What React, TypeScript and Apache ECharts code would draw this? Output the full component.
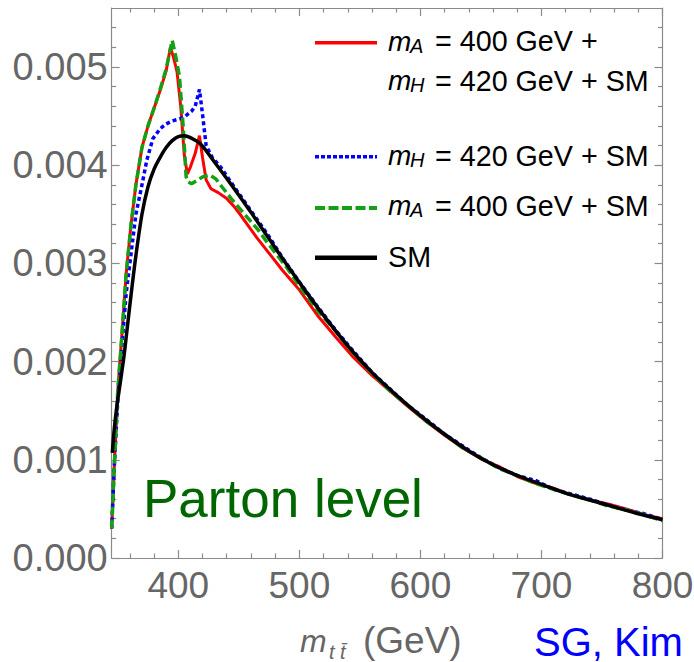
import React, { useEffect, useRef } from "react";
import * as echarts from "echarts";

// ---- data (m_tt in GeV, normalized distribution) ----
const smX = [345.5, 347, 349, 352, 355, 358, 361, 365, 370, 375, 380, 385, 390, 395, 400, 405, 410, 418, 430, 445, 460, 475, 490, 505, 520, 540, 560, 580, 600, 620, 640, 660, 680, 700, 720, 740, 760, 780, 800];
const smY = [0.00107, 0.0013, 0.00152, 0.00178, 0.00204, 0.00236, 0.00268, 0.00308, 0.0035, 0.00378, 0.00396, 0.00408, 0.00418, 0.00425, 0.00429, 0.0043, 0.00428, 0.00422, 0.00403, 0.00378, 0.00352, 0.00325, 0.00298, 0.00272, 0.00247, 0.00216, 0.00189, 0.00166, 0.00145, 0.00126, 0.00109, 0.00095, 0.00084, 0.00075, 0.00066, 0.00059, 0.00052, 0.00045, 0.00039];

const redX = [345, 347, 350, 353, 357, 361, 365, 370, 375, 380, 385, 390, 393.5, 396, 399, 402, 405, 407.5, 410, 414, 417.5, 420, 423, 427, 433, 440, 446, 451, 458, 465, 472, 479, 486, 493, 500, 515, 530, 545, 560, 575, 590, 605, 620, 635, 650, 665, 680, 695, 710, 725, 740, 755, 770, 785, 800];
const redY = [0.0003, 0.0009, 0.0017, 0.0022, 0.0029, 0.0034, 0.0038, 0.00418, 0.0044, 0.00458, 0.00476, 0.00496, 0.0052, 0.0051, 0.00495, 0.0046, 0.0041, 0.00391, 0.00398, 0.00412, 0.0043, 0.00408, 0.00385, 0.00376, 0.00372, 0.00366, 0.00358, 0.0035, 0.00338, 0.00326, 0.00315, 0.00304, 0.00293, 0.00283, 0.00273, 0.00247, 0.00225, 0.00204, 0.00186, 0.0017, 0.00154, 0.00139, 0.00125, 0.00112, 0.00101, 0.00093, 0.00083, 0.00076, 0.00071, 0.00064, 0.00059, 0.00055, 0.0005, 0.00044, 0.0004];

const blueX = [345, 347, 350, 353, 357, 361, 365, 370, 374, 379, 385, 390, 395, 401, 406, 411, 414, 417.5, 420, 423, 428, 435, 445, 458, 473, 487, 500, 515, 530, 545, 560, 575, 590, 605, 620, 635, 650, 665, 680, 695, 710, 725, 740, 755, 770, 785, 800];
const blueY = [0.0003, 0.0009, 0.0016, 0.0021, 0.0027, 0.0031, 0.0035, 0.0038, 0.00405, 0.00427, 0.00437, 0.00442, 0.00445, 0.00447, 0.0045, 0.00455, 0.0046, 0.00477, 0.00452, 0.0042, 0.00408, 0.00398, 0.0038, 0.00357, 0.00331, 0.00304, 0.00281, 0.00256, 0.00232, 0.0021, 0.00189, 0.00172, 0.00155, 0.00141, 0.00126, 0.00114, 0.00102, 0.00092, 0.00084, 0.00079, 0.0007, 0.00065, 0.0006, 0.00054, 0.00049, 0.00045, 0.00039];

const greenX = [345, 347, 350, 353, 357, 361, 365, 370, 375, 380, 385, 390, 395, 398, 401, 404, 406.5, 408, 411, 415, 420, 426, 431, 436, 445, 452, 459, 466, 473, 480, 490, 500, 515, 530, 545, 560, 575, 590, 605, 620, 635, 650, 665, 680, 695, 710, 725, 740, 755, 770, 785, 800];
const greenY = [0.0003, 0.0009, 0.0017, 0.0022, 0.0029, 0.0034, 0.0038, 0.00418, 0.0044, 0.00458, 0.00477, 0.00498, 0.00527, 0.0051, 0.0049, 0.0044, 0.00388, 0.00383, 0.00381, 0.00384, 0.00388, 0.0039, 0.00386, 0.00378, 0.00364, 0.00354, 0.00344, 0.00334, 0.00322, 0.00311, 0.00295, 0.00277, 0.00252, 0.00231, 0.00208, 0.00188, 0.0017, 0.00155, 0.00139, 0.00126, 0.00112, 0.00102, 0.00091, 0.00084, 0.00076, 0.0007, 0.00064, 0.00059, 0.00053, 0.00049, 0.00044, 0.00038];

const xMajorTicks = [400, 500, 600, 700, 800];
const xMinorTicks = [360, 380, 420, 440, 460, 480, 520, 540, 560, 580, 620, 640, 660, 680, 720, 740, 760, 780];
const yMajorTicks = [0, 0.001, 0.002, 0.003, 0.004, 0.005];
const yMinorTicks = [0.0002, 0.0004, 0.0006, 0.0008, 0.0012, 0.0014, 0.0016, 0.0018, 0.0022, 0.0024, 0.0026, 0.0028, 0.0032, 0.0034, 0.0036, 0.0038, 0.0042, 0.0044, 0.0046, 0.0048, 0.0052, 0.0054];

const FONT = '"Liberation Sans", Arial, sans-serif';
const FRAME = { color: "#8a8a8a", width: 1.2 };

function zip(xs: number[], ys: number[]) {
  return xs.map((x, i) => [x, ys[i]]);
}

function tickAxis(kind: "x" | "y", position: string, values: number[], len: number, line: boolean, labels: boolean) {
  const base: any = {
    type: "value",
    position,
    min: kind === "x" ? 345 : 0,
    max: kind === "x" ? 800 : 0.0056,
    splitLine: { show: false },
    axisLine: { show: line, onZero: false, lineStyle: FRAME },
    axisTick: { show: true, inside: true, length: len, customValues: values, lineStyle: FRAME },
    axisLabel: { show: false },
  };
  if (labels) {
    base.axisLabel = {
      show: true,
      customValues: values,
      fontSize: kind === "x" ? 37 : 38,
      fontFamily: FONT,
      color: "#666666",
      margin: kind === "x" ? 9 : 4,
      formatter: kind === "x" ? (v: number) => String(v) : (v: number) => v.toFixed(3),
    };
  }
  return base;
}

export default function App() {
  const ref = useRef<HTMLDivElement>(null);
  useEffect(() => {
    if (!ref.current) return;
    const chart = echarts.init(ref.current, null, { renderer: "svg" });
    const txt = (x: number, y: number, text: string, size: number, italic = false, fill = "#000") => ({
      type: "text",
      x,
      y,
      style: { text, fontSize: size, fontFamily: FONT, fontStyle: italic ? "italic" : "normal", fill, verticalAlign: "middle", align: "left" },
    });
    const lg = (y: number, stroke: string, w: number, dash?: number[]) => ({
      type: "line",
      shape: { x1: 315, y1: y, x2: 377, y2: y },
      style: { stroke, lineWidth: w, lineDash: dash },
    });
    chart.setOption({
      animation: false,
      backgroundColor: "#ffffff",
      grid: { left: 111.7, right: 31.5, top: 8, bottom: 104, containLabel: false, outerBoundsMode: "none" },
      xAxis: [
        tickAxis("x", "bottom", xMajorTicks, 8, true, true),
        tickAxis("x", "bottom", xMinorTicks, 4.5, false, false),
        tickAxis("x", "top", xMajorTicks, 8, true, false),
        tickAxis("x", "top", xMinorTicks, 4.5, false, false),
      ],
      yAxis: [
        tickAxis("y", "left", yMajorTicks, 8, true, true),
        tickAxis("y", "left", yMinorTicks, 4.5, false, false),
        tickAxis("y", "right", yMajorTicks, 8, true, false),
        tickAxis("y", "right", yMinorTicks, 4.5, false, false),
      ],
      series: [
        { type: "line", xAxisIndex: 0, yAxisIndex: 0, data: zip(redX, redY), symbol: "none", lineStyle: { color: "#ff0000", width: 3 }, z: 2 },
        { type: "line", xAxisIndex: 0, yAxisIndex: 0, data: zip(blueX, blueY), symbol: "none", lineStyle: { color: "#0000ff", width: 3.5, type: [4, 3] }, z: 3 },
        { type: "line", xAxisIndex: 0, yAxisIndex: 0, data: zip(greenX, greenY), symbol: "none", lineStyle: { color: "#14a014", width: 3.5, type: [9, 4] }, z: 4 },
        { type: "line", xAxisIndex: 0, yAxisIndex: 0, data: zip(smX, smY), symbol: "none", smooth: 0.3, lineStyle: { color: "#000000", width: 3.5 }, z: 5 },
      ],
      graphic: [
        lg(42.7, "#ff0000", 3.5),
        txt(388, 41.2, "m", 28, true),
        txt(410, 46, "A", 20, true),
        txt(435, 41.2, "= 400 GeV +", 28.7),
        txt(388, 80.7, "m", 28, true),
        txt(410, 85.4, "H", 20, true),
        txt(435, 80.7, "= 420 GeV + SM", 28.7),
        lg(156.7, "#0000ff", 3.5, [4, 2]),
        txt(388, 155.7, "m", 28, true),
        txt(410, 160.4, "H", 20, true),
        txt(435, 155.7, "= 420 GeV + SM", 28.7),
        lg(208, "#14a014", 4, [10, 3.5]),
        txt(388, 205.7, "m", 28, true),
        txt(410, 210.4, "A", 20, true),
        txt(435, 205.7, "= 400 GeV + SM", 28.7),
        lg(257.7, "#000000", 4.5),
        txt(388, 256.7, "SM", 28.7),
        txt(143, 498.3, "Parton level", 53, false, "#006600"),
        txt(300, 640.5, "m", 32, true, "#666666"),
        txt(329, 652, "t t\u0304", 20, true, "#666666"),
        txt(363, 640.5, "(GeV)", 37, false, "#666666"),
        txt(534, 641.5, "SG, Kim", 40, false, "#0000ff"),
      ],
    });
    return () => chart.dispose();
  }, []);
  return <div ref={ref} style={{ position: "absolute", left: 0, top: 0, width: 694, height: 662 }} />;
}
